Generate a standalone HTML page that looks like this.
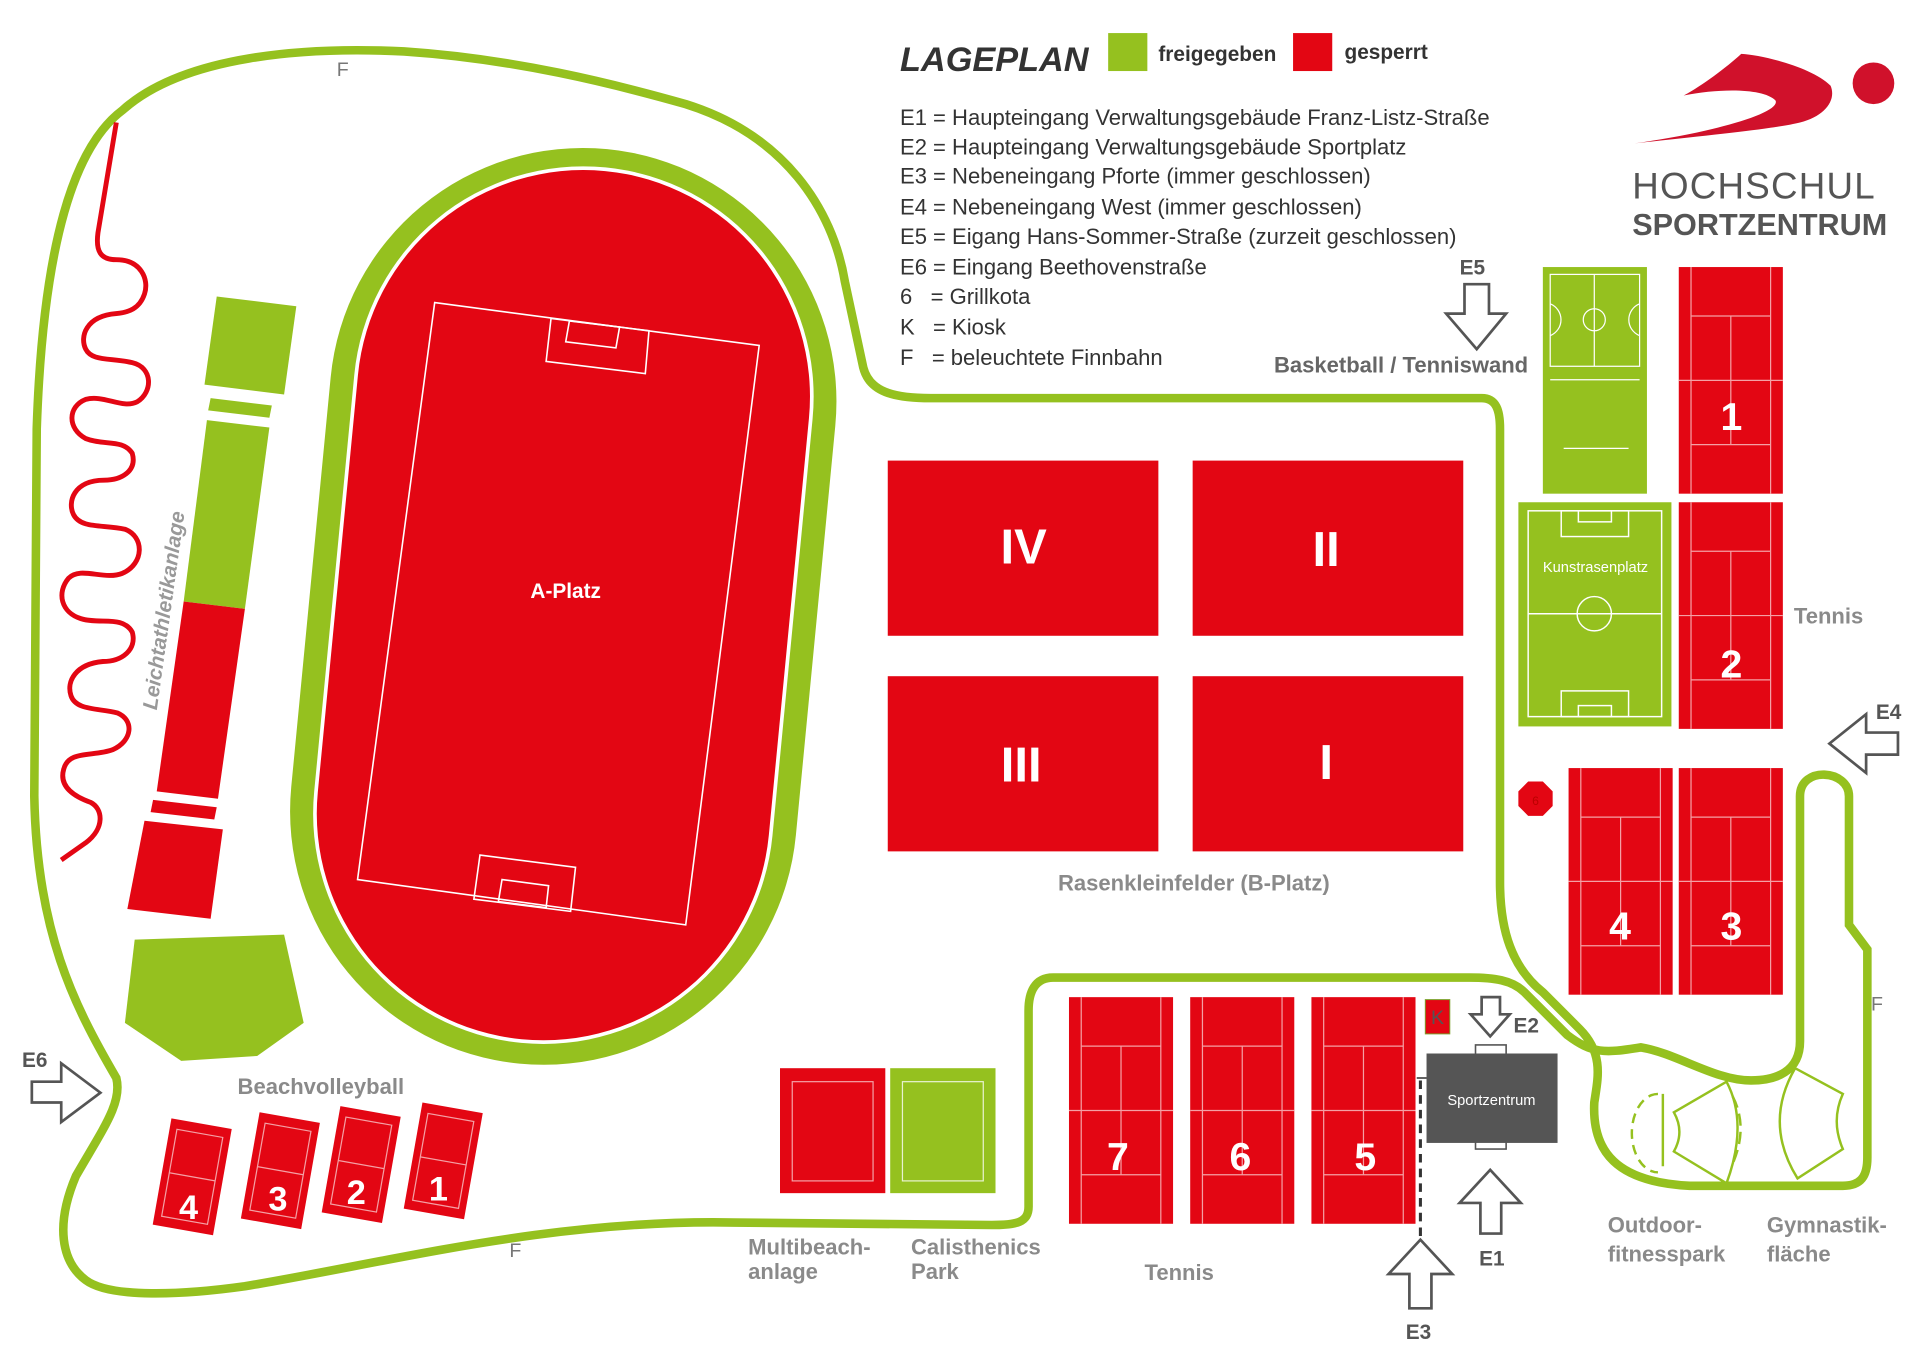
<!DOCTYPE html>
<html><head><meta charset="utf-8"><style>
html,body{margin:0;padding:0;background:#fff;}
svg{display:block;}
text{font-family:"Liberation Sans",sans-serif;}
</style></head><body>
<svg width="1920" height="1372" viewBox="0 0 1568 1120" preserveAspectRatio="none" xmlns="http://www.w3.org/2000/svg">
<defs>
<g id="tc">
<rect x="0" y="0" width="85" height="185" fill="#e30613"/>
<g stroke="#f4a0a5" stroke-width="1" fill="none">
<line x1="10" y1="0" x2="10" y2="185"/><line x1="75" y1="0" x2="75" y2="185"/>
<line x1="10" y1="40" x2="75" y2="40"/><line x1="10" y1="145" x2="75" y2="145"/>
<line x1="42.5" y1="40" x2="42.5" y2="145"/><line x1="0" y1="92.5" x2="85" y2="92.5"/>
</g></g>
<g id="bv">
<rect x="0" y="0" width="50" height="88" fill="#e30613"/>
<rect x="6" y="8" width="38" height="72" fill="none" stroke="#f4a0a5" stroke-width="1"/>
<line x1="6" y1="44" x2="44" y2="44" stroke="#f4a0a5" stroke-width="1"/>
</g>
</defs>

<!-- Finnbahn -->
<path d="M95 880 C60 820 30 760 28 650 L30 350 C35 200 60 120 100 90 C150 45 250 38 330 42 C420 48 500 68 560 85 C640 110 680 170 690 230 L705 300 C710 320 730 325 760 325 L1210 325 C1222 325 1225 335 1225 350 L1225 720 C1225 760 1235 790 1260 810 L1290 840 C1310 860 1305 880 1302 900 C1300 940 1320 965 1380 968 L1505 968 C1520 968 1525 960 1525 945 L1525 775 L1510 755 L1510 650 C1510 628 1470 625 1470 650 L1470 850 C1470 875 1450 882 1430 882 C1400 882 1370 860 1340 855 C1310 860 1300 860 1280 845 L1245 810 C1235 800 1220 798 1200 798 L860 798 C845 798 840 810 840 825 L840 985 C840 998 830 1000 810 1000 L600 998 C450 995 320 1030 200 1050 C150 1057 90 1060 70 1045 C50 1030 45 1000 62 960 C85 920 100 900 95 880 Z" fill="none" stroke="#95c11f" stroke-width="7"/>

<!-- red wiggle -->
<path d="M95 100 L80 190 C78 205 82 212 95 212 C115 212 122 228 118 240 C114 252 105 255 95 256 C70 258 65 275 70 285 C75 295 90 292 108 296 C125 300 125 320 112 328 C100 334 85 322 70 326 C55 332 55 350 70 358 C85 364 100 358 108 370 C112 384 100 392 85 392 C60 392 55 410 60 420 C66 432 85 428 102 432 C118 438 118 460 100 468 C85 474 66 462 56 472 C46 484 50 500 66 505 C82 510 100 502 108 516 C112 530 100 540 84 540 C62 542 54 556 58 568 C62 580 80 578 96 582 C110 588 108 605 92 612 C76 618 56 612 52 628 C48 642 60 650 74 655 C84 660 86 676 70 688 L50 702" fill="none" stroke="#e30613" stroke-width="4" stroke-linejoin="round"/>

<!-- track -->
<g transform="rotate(5.5 460 495)">
<rect x="253" y="120" width="414" height="750" rx="207" fill="#95c11f"/>
<rect x="272" y="135" width="376" height="718" rx="188" fill="#fff"/>
<rect x="275" y="138" width="370" height="712" rx="185" fill="#e30613"/>
</g>
<g fill="none" stroke="#fff" stroke-width="1.3">
<polygon points="355,247 620,282 560,755 292,718"/>
<polygon points="450,260 530,270 527,305 446,295"/>
<polygon points="465,262 506,267 503,284 462,279"/>
<polygon points="392,698 470,708 466,744 387,734"/>
<polygon points="410,718 448,723 446,741 407,736"/>
</g>
<text x="462" y="488" font-size="17" font-weight="bold" fill="#fff" text-anchor="middle">A-Platz</text>

<!-- Leichtathletik -->
<polygon points="177,242 242,250 232,322 167,314" fill="#95c11f"/>
<polygon points="172,325 222,331 220,341 170,335" fill="#95c11f"/>
<polygon points="169,343 220,349 200,497 150,491" fill="#95c11f"/>
<polygon points="150,491 200,497 178,652 128,646" fill="#e30613"/>
<polygon points="125,653 177,659 175,669 123,663" fill="#e30613"/>
<polygon points="118,670 182,677 172,750 104,742" fill="#e30613"/>
<polygon points="110,767 232,763 248,835 210,862 148,866 102,835" fill="#95c11f"/>
<text x="0" y="0" font-size="17" font-weight="bold" font-style="italic" fill="#999" transform="translate(128,580) rotate(-82)">Leichtathletikanlage</text>

<!-- Rasenkleinfelder -->
<rect x="725" y="376" width="221" height="143" fill="#e30613"/>
<rect x="974" y="376" width="221" height="143" fill="#e30613"/>
<rect x="725" y="552" width="221" height="143" fill="#e30613"/>
<rect x="974" y="552" width="221" height="143" fill="#e30613"/>
<g font-size="40" font-weight="bold" fill="#fff" text-anchor="middle">
<text x="836" y="460">IV</text><text x="1083" y="462">II</text>
<text x="834" y="638">III</text><text x="1083" y="636">I</text>
</g>
<text x="975" y="727" font-size="18" font-weight="bold" fill="#8a8a8a" text-anchor="middle">Rasenkleinfelder (B-Platz)</text>

<!-- Basketball -->
<rect x="1260" y="218" width="85" height="185" fill="#95c11f"/>
<g fill="none" stroke="#fff" stroke-width="1">
<rect x="1266" y="224" width="73" height="75"/>
<line x1="1302" y1="224" x2="1302" y2="299"/><circle cx="1302" cy="261" r="9"/>
<path d="M1266 248 A14 14 0 0 1 1266 274"/><path d="M1339 248 A14 14 0 0 0 1339 274"/>
<line x1="1266" y1="310" x2="1339" y2="310"/><line x1="1277" y1="366" x2="1330" y2="366"/>
</g>
<text x="1248" y="304" font-size="18" font-weight="bold" fill="#666" text-anchor="end">Basketball / Tenniswand</text>

<!-- Kunstrasen -->
<rect x="1240" y="410" width="125" height="183" fill="#95c11f"/>
<g fill="none" stroke="#fff" stroke-width="1.2">
<rect x="1248" y="417" width="109" height="168"/>
<line x1="1248" y1="501" x2="1357" y2="501"/><circle cx="1302" cy="501" r="14"/>
<rect x="1275" y="417" width="55" height="21"/><rect x="1289" y="417" width="27" height="9"/>
<rect x="1275" y="564" width="55" height="21"/><rect x="1289" y="576" width="27" height="9"/>
</g>
<text x="1303" y="467" font-size="12" fill="#fff" text-anchor="middle">Kunstrasenplatz</text>

<!-- Tennis courts -->
<use href="#tc" x="1371" y="218"/><use href="#tc" x="1371" y="410"/>
<use href="#tc" x="1281" y="627"/><use href="#tc" x="1371" y="627"/>
<use href="#tc" x="873" y="814"/><use href="#tc" x="972" y="814"/><use href="#tc" x="1071" y="814"/>
<g font-size="32" font-weight="bold" fill="#fff" text-anchor="middle">
<text x="1414" y="351">1</text><text x="1414" y="553">2</text>
<text x="1323" y="767">4</text><text x="1414" y="767">3</text>
<text x="913" y="955">7</text><text x="1013" y="955">6</text><text x="1115" y="955">5</text>
</g>
<text x="1465" y="509" font-size="18" font-weight="bold" fill="#8a8a8a">Tennis</text>
<text x="963" y="1045" font-size="18" font-weight="bold" fill="#8a8a8a" text-anchor="middle">Tennis</text>

<!-- Grillkota -->
<polygon points="1248,638 1260,638 1268,646 1268,658 1260,666 1248,666 1240,658 1240,646" fill="#e30613"/>
<text x="1254" y="657" font-size="10" fill="#b00" text-anchor="middle">6</text>

<!-- Kiosk & Sportzentrum -->
<rect x="1164" y="816" width="20" height="28" fill="#e30613" stroke="#7aa02a" stroke-width="0.8"/>
<text x="1174" y="836" font-size="16" fill="#555" text-anchor="middle">K</text>
<rect x="1205" y="853" width="25" height="8" fill="#fff" stroke="#555" stroke-width="1.3"/>
<rect x="1205" y="930" width="25" height="8" fill="#fff" stroke="#555" stroke-width="1.3"/>
<rect x="1165" y="860" width="107" height="73" fill="#555"/>
<text x="1218" y="902" font-size="12" fill="#fff" text-anchor="middle">Sportzentrum</text>
<line x1="1160" y1="882" x2="1160" y2="1010" stroke="#333" stroke-width="2.5" stroke-dasharray="7,5"/>
<line x1="1157" y1="880" x2="1165" y2="880" stroke="#555" stroke-width="1.5"/>

<!-- Arrows -->
<g fill="#fff" stroke="#555" stroke-width="2.2" stroke-linejoin="miter">
<polygon points="1210,814 1225,814 1225,828 1233,828 1217,846 1201,828 1210,828"/>
<polygon points="1209,1007 1226,1007 1226,982 1242,982 1217,955 1192,982 1209,982"/>
<polygon points="1151,1068 1169,1068 1169,1040 1186,1040 1160,1012 1134,1040 1151,1040"/>
<polygon points="1196,232 1216,232 1216,256 1230,256 1206,285 1181,256 1196,256"/>
<polygon points="26,883 50,883 50,868 82,892 50,916 50,900 26,900"/>
<polygon points="1550,598 1524,598 1524,583 1494,607 1524,631 1524,616 1550,616"/>
</g>
<g font-size="17" font-weight="bold" fill="#555">
<text x="1236" y="843">E2</text><text x="1208" y="1033">E1</text>
<text x="1148" y="1093">E3</text><text x="1192" y="224">E5</text>
<text x="18" y="871">E6</text><text x="1532" y="587">E4</text>
</g>

<!-- F labels -->
<g font-size="16" fill="#777">
<text x="275" y="62">F</text><text x="416" y="1026">F</text><text x="1528" y="825">F</text>
</g>

<!-- Beachvolleyball -->
<use href="#bv" transform="translate(140,913) rotate(10)"/>
<use href="#bv" transform="translate(212,908) rotate(10)"/>
<use href="#bv" transform="translate(278,903) rotate(10)"/>
<use href="#bv" transform="translate(345,900) rotate(10)"/>
<g font-size="28" font-weight="bold" fill="#fff" text-anchor="middle">
<text x="154" y="995">4</text><text x="227" y="988">3</text><text x="291" y="983">2</text><text x="358" y="980">1</text>
</g>
<text x="262" y="893" font-size="18" font-weight="bold" fill="#8a8a8a" text-anchor="middle">Beachvolleyball</text>

<!-- Multibeach / Calisthenics -->
<rect x="637" y="872" width="86" height="102" fill="#e30613"/>
<rect x="647" y="883" width="66" height="81" fill="none" stroke="#f4a0a5" stroke-width="1"/>
<rect x="727" y="872" width="86" height="102" fill="#95c11f"/>
<rect x="737" y="883" width="66" height="81" fill="none" stroke="#e8f2cf" stroke-width="1"/>
<g font-size="18" font-weight="bold" fill="#8a8a8a">
<text x="611" y="1024">Multibeach-</text><text x="611" y="1044">anlage</text>
<text x="744" y="1024">Calisthenics</text><text x="744" y="1044">Park</text>
<text x="1313" y="1006">Outdoor-</text><text x="1313" y="1030">fitnesspark</text>
<text x="1443" y="1006">Gymnastik-</text><text x="1443" y="1030">fläche</text>
</g>

<!-- fitness shapes -->
<g fill="none" stroke="#95c11f" stroke-width="2">
<path d="M1653 0" />
<path d="M1354 893 A20 30 0 1 0 1354 957" stroke-dasharray="8,5"/>
<line x1="1358" y1="893" x2="1358" y2="952"/>
<path d="M1367 908 L1410 883 Q1428 917 1410 966 L1367 940 Q1376 924 1367 908 Z"/>
<path d="M1415 895 Q1428 920 1415 950" stroke-dasharray="10,5"/>
<path d="M1466 872 L1505 893 Q1495 915 1505 938 L1468 962 Q1440 917 1466 872 Z"/>
</g>

<!-- Legend -->
<text x="735" y="58" font-size="28" font-weight="bold" font-style="italic" fill="#333">LAGEPLAN</text>
<rect x="905" y="27" width="32" height="31" fill="#95c11f"/>
<text x="946" y="50" font-size="17" font-weight="bold" fill="#333">freigegeben</text>
<rect x="1056" y="27" width="32" height="31" fill="#e30613"/>
<text x="1098" y="48" font-size="17" font-weight="bold" fill="#333">gesperrt</text>
<g font-size="18" fill="#333">
<text x="735" y="102">E1 = Haupteingang Verwaltungsgebäude Franz-Listz-Straße</text>
<text x="735" y="126">E2 = Haupteingang Verwaltungsgebäude Sportplatz</text>
<text x="735" y="150">E3 = Nebeneingang Pforte (immer geschlossen)</text>
<text x="735" y="175">E4 = Nebeneingang West (immer geschlossen)</text>
<text x="735" y="199">E5 = Eigang Hans-Sommer-Straße (zurzeit geschlossen)</text>
<text x="735" y="224">E6 = Eingang Beethovenstraße</text>
<text x="735" y="248">6 &#160;&#160;= Grillkota</text>
<text x="735" y="273">K &#160;&#160;= Kiosk</text>
<text x="735" y="298">F &#160;&#160;= beleuchtete Finnbahn</text>
</g>

<!-- Logo -->
<path d="M1335 117 C1400 110 1450 105 1470 100 C1490 95 1500 82 1495 70 C1480 55 1440 45 1422 44 C1410 55 1390 70 1375 78 C1405 72 1440 72 1450 82 C1455 92 1400 108 1335 117 Z" fill="#d0112b"/>
<circle cx="1530" cy="68" r="17" fill="#d0112b"/>
<text x="1333" y="162" font-size="30" fill="#555" letter-spacing="1">HOCHSCHUL</text>
<text x="1333" y="192" font-size="25" font-weight="bold" fill="#555">SPORTZENTRUM</text>
</svg>
</body></html>
